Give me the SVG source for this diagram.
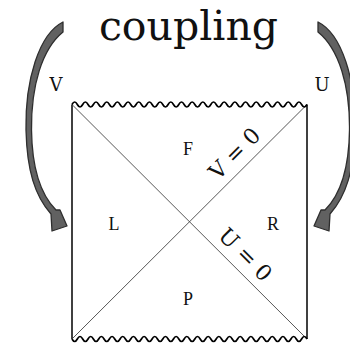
<svg xmlns="http://www.w3.org/2000/svg" width="350" height="346" viewBox="0 0 350 346">
<style>
.edge{stroke:#000;stroke-width:1.5;fill:none}
.diag{stroke:#444;stroke-width:0.9;fill:none}
.wave{stroke:#000;stroke-width:1.7;fill:none}
.arrow{fill:#616161;stroke:#2e2e2e;stroke-width:1.3;stroke-linejoin:round}
.region{font-family:"Liberation Serif","DejaVu Serif",serif;font-size:18px;fill:#111;text-anchor:middle}
.big{font-family:"DejaVu Serif","Liberation Serif",serif;font-size:41px;fill:#111;text-anchor:middle}
.lab{font-family:"DejaVu Serif","Liberation Serif",serif;font-size:18px;fill:#111;text-anchor:middle}
.axis{font-family:"DejaVu Serif","Liberation Serif",serif;font-size:22px;fill:#111;text-anchor:middle}
</style>
<defs>
<path id="arrowShape" d="M63,22 C39,34 25,80 26,130 C27,171 35,196 51,214 L52,231 L67,226 L60,210 L56,210 C41,195 32,170 31.5,130 C31,86 42,49 63,32 Z"/>
</defs>
<g id="diagram">
<line class="edge" x1="72" y1="104.5" x2="72" y2="339"/>
<line class="edge" x1="307" y1="104.5" x2="307" y2="339"/>
<line class="diag" x1="72" y1="104.5" x2="307" y2="339"/>
<line class="diag" x1="72" y1="339" x2="307" y2="104.5"/>
<path class="wave" d="M72,104.5 q2.67,-5 5.34,0 t5.34,0 t5.34,0 t5.34,0 t5.34,0 t5.34,0 t5.34,0 t5.34,0 t5.34,0 t5.34,0 t5.34,0 t5.34,0 t5.34,0 t5.34,0 t5.34,0 t5.34,0 t5.34,0 t5.34,0 t5.34,0 t5.34,0 t5.34,0 t5.34,0 t5.34,0 t5.34,0 t5.34,0 t5.34,0 t5.34,0 t5.34,0 t5.34,0 t5.34,0 t5.34,0 t5.34,0 t5.34,0 t5.34,0 t5.34,0 t5.34,0 t5.34,0 t5.34,0 t5.34,0 t5.34,0 t5.34,0 t5.34,0 t5.34,0 t5.34,0"/>
<path class="wave" d="M72,339 q2.67,5 5.34,0 t5.34,0 t5.34,0 t5.34,0 t5.34,0 t5.34,0 t5.34,0 t5.34,0 t5.34,0 t5.34,0 t5.34,0 t5.34,0 t5.34,0 t5.34,0 t5.34,0 t5.34,0 t5.34,0 t5.34,0 t5.34,0 t5.34,0 t5.34,0 t5.34,0 t5.34,0 t5.34,0 t5.34,0 t5.34,0 t5.34,0 t5.34,0 t5.34,0 t5.34,0 t5.34,0 t5.34,0 t5.34,0 t5.34,0 t5.34,0 t5.34,0 t5.34,0 t5.34,0 t5.34,0 t5.34,0 t5.34,0 t5.34,0 t5.34,0 t5.34,0"/>
</g>
<g id="connectors">
<use href="#arrowShape" class="arrow"/>
<use href="#arrowShape" class="arrow" transform="translate(381,0) scale(-1,1)"/>
</g>
<g id="title"><text class="big" x="188.5" y="40">coupling</text></g>
<g id="label-V"><text class="lab" x="56" y="91">V</text></g>
<g id="label-U"><text class="lab" x="322" y="91">U</text></g>
<g id="region-F"><text class="region" x="188" y="155">F</text></g>
<g id="region-L"><text class="region" x="114" y="230">L</text></g>
<g id="region-R"><text class="region" x="273" y="230">R</text></g>
<g id="region-P"><text class="region" x="188" y="305">P</text></g>
<g id="label-V0"><text class="axis" transform="translate(235,154) rotate(-45)" x="0" y="7">V = 0</text></g>
<g id="label-U0"><text class="axis" transform="translate(245,255) rotate(45)" x="0" y="7">U = 0</text></g>
</svg>
